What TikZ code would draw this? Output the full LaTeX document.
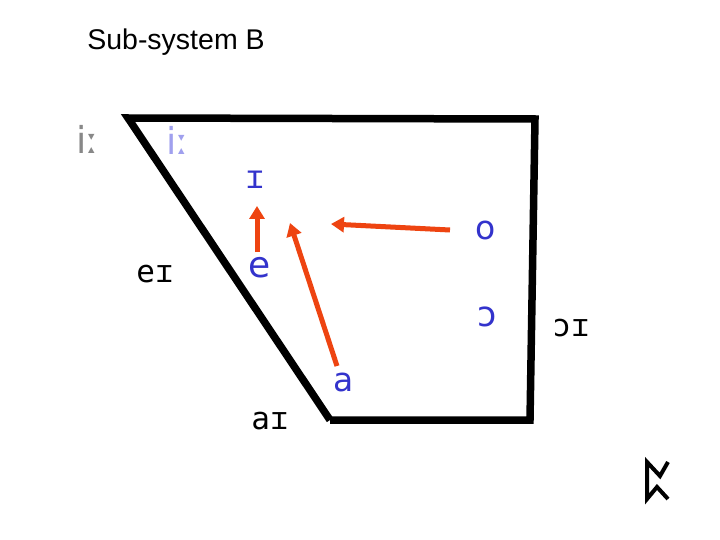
\documentclass[tikz,border=0pt]{standalone}
\usepackage{fontspec}
\setmainfont{Liberation Sans}
\newfontfamily\ipafont{DejaVu Sans}
\newfontfamily\ipamono{DejaVu Sans Mono}
\usetikzlibrary{arrows.meta}
\definecolor{vblue}{RGB}{51,51,204}
\definecolor{vred}{RGB}{238,68,17}
\definecolor{vgray}{RGB}{136,136,136}
\definecolor{vlight}{RGB}{160,160,238}
\begin{document}
\begin{tikzpicture}[x=1pt,y=-1pt,
  frame/.style={line width=7.5pt,line join=miter,line cap=butt},
  vowel/.style={inner sep=0pt,text=vblue},
  diph/.style={inner sep=0pt,text=black,font=\ipamono\fontsize{31}{31}\selectfont},
  long/.style={inner sep=0pt,font=\ipafont\fontsize{37}{37}\selectfont},
  move/.style={vred,line width=5pt,-{Triangle[width=15pt,length=13pt]}}]
\useasboundingbox (0,0) rectangle (720,540);
\fill[white] (0,0) rectangle (720,540);
\node[inner sep=0pt,font=\fontsize{28.5}{28.5}\selectfont] (title) at (176,42) {Sub-system B};
% trapezoid
\coordinate (tl) at (128,118);
\coordinate (tr) at (535,119);
\coordinate (br) at (530,420);
\coordinate (bl) at (330,420);
\draw[frame] (bl) -- (tl) -- (tr) -- (br) -- (bl);
% vowels
\node[vowel,font=\ipamono\fontsize{32}{32}\selectfont] (I) at (255,180) {ɪ};
\node[vowel,font=\ipafont\fontsize{33}{33}\selectfont] (o) at (486,230) {o};
\node[vowel,font=\ipafont\fontsize{36}{36}\selectfont] (e) at (260,268) {e};
\node[vowel,font=\ipafont\fontsize{35}{35}\selectfont] (oo) at (487,317) {ɔ};
\node[vowel,font=\ipafont\fontsize{33}{33}\selectfont] (a) at (344,382) {a};
\node[long,text=vgray] (ii1) at (88,139) {iː};
\node[long,text=vlight] (ii2) at (178,140) {iː};
\node[diph] (ei) at (155,274) {eɪ};
\node[diph] (oi) at (571,328) {ɔɪ};
\node[diph] (ai) at (270,421) {aɪ};
% movements
\coordinate (eS) at (257,252);
\coordinate (eT) at (257,206);
\coordinate (oS) at (450,230);
\coordinate (oT) at (331,224);
\coordinate (aS) at (337,366);
\coordinate (aT) at (290,223);
\draw[move] (eS) -- (eT);
\draw[move] (oS) -- (oT);
\draw[move] (aS) -- (aT);
% nav rune
\coordinate (r1) at (647,499);
\coordinate (r2) at (647,462);
\coordinate (r3) at (660,476);
\coordinate (r4) at (668,462);
\coordinate (r5) at (657,487);
\coordinate (r6) at (668,499);
\draw[line width=4pt,line join=miter] (r4) -- (r3) -- (r2) -- (r1) -- (r5) -- (r6);
\end{tikzpicture}
\end{document}
